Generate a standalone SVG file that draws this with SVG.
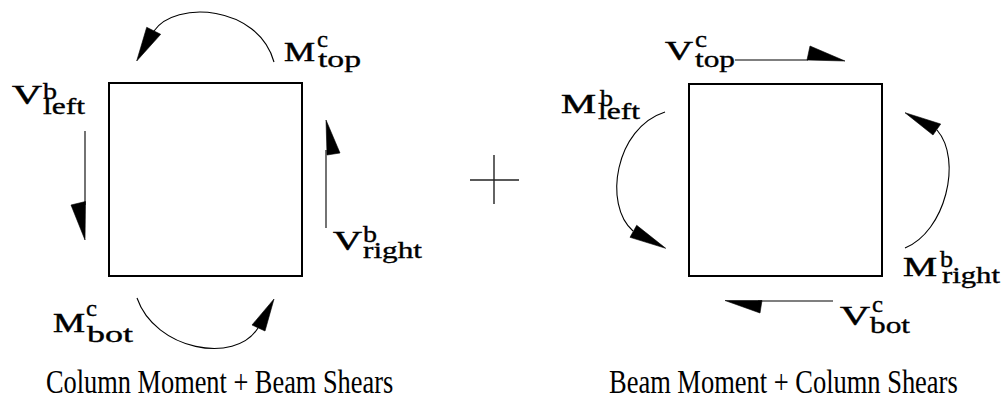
<svg xmlns="http://www.w3.org/2000/svg" width="1004" height="402" viewBox="0 0 1004 402">
<style>
.box{fill:none;stroke:#000;stroke-width:2}
.ln{fill:none;stroke:#000;stroke-width:1.1}
.ah{fill:#000;stroke:#000;stroke-width:0.6;stroke-linejoin:miter}
.lbl{font-family:"Liberation Serif","Times New Roman",serif;fill:#000;stroke:#000}
.mn{font-size:27px;stroke-width:0.5}
.sb{font-size:23px;stroke-width:0.35}
.cap{font-family:"Liberation Serif","Times New Roman",serif;font-size:34px;fill:#000}
.plus{fill:none;stroke:#222;stroke-width:1.4}
</style>
<rect width="1004" height="402" fill="#fff"/>

<g id="left-square"><rect class="box" x="109" y="83" width="193" height="193"/></g>
<g id="right-square"><rect class="box" x="689" y="84" width="193" height="192"/></g>

<g id="plus"><line class="plus" x1="494" y1="155" x2="494" y2="204"/><line class="plus" x1="470" y1="180" x2="519" y2="180"/></g>

<g id="connectors">
  <path class="ln" d="M274,62 C258,5 175,0 154,31"/>
  <polygon class="ah" points="146.7,27.3 160.7,34.3 136.7,61"/>
  <line class="ln" x1="85" y1="131" x2="85" y2="205"/>
  <polygon class="ah" points="71,205 85.5,201.5 85,240"/>
  <line class="ln" x1="326" y1="228" x2="326" y2="150"/>
  <polygon class="ah" points="326,120 340,153 327,155"/>
  <path class="ln" d="M137,298 C155,350 235,365 258,328"/>
  <polygon class="ah" points="274,299 252,325 265,331"/>
  <line class="ln" x1="735" y1="60" x2="808" y2="60"/>
  <polygon class="ah" points="807,60 810,46 845,61"/>
  <path class="ln" d="M665,112 C615,128 603,205 633,231"/>
  <polygon class="ah" points="636.7,225.3 630,237.3 665.7,248.3"/>
  <path class="ln" d="M905,248 C945,232 963,160 937,130"/>
  <polygon class="ah" points="933,135 940.7,124 905,112.7"/>
  <line class="ln" x1="833" y1="301" x2="758" y2="301"/>
  <polygon class="ah" points="725,300.5 762,300.5 760,313"/>
</g>

<g id="label-M-top"><text class="lbl"><tspan class="mn" x="284" y="61" textLength="31" lengthAdjust="spacingAndGlyphs">M</tspan><tspan class="sb" x="317" y="47" textLength="11" lengthAdjust="spacingAndGlyphs">c</tspan><tspan class="sb" x="318" y="67" textLength="43" lengthAdjust="spacingAndGlyphs">top</tspan></text></g>
<g id="label-V-left"><text class="lbl"><tspan class="mn" x="12" y="104" textLength="30" lengthAdjust="spacingAndGlyphs">V</tspan><tspan class="sb" x="43" y="99" textLength="14" lengthAdjust="spacingAndGlyphs">b</tspan><tspan class="sb" x="43" y="114" textLength="42" lengthAdjust="spacingAndGlyphs">left</tspan></text></g>
<g id="label-V-right"><text class="lbl"><tspan class="mn" x="333" y="250" textLength="29" lengthAdjust="spacingAndGlyphs">V</tspan><tspan class="sb" x="363" y="242" textLength="14" lengthAdjust="spacingAndGlyphs">b</tspan><tspan class="sb" x="363" y="258" textLength="59" lengthAdjust="spacingAndGlyphs">right</tspan></text></g>
<g id="label-M-bot"><text class="lbl"><tspan class="mn" x="53" y="332" textLength="32" lengthAdjust="spacingAndGlyphs">M</tspan><tspan class="sb" x="86" y="316" textLength="11" lengthAdjust="spacingAndGlyphs">c</tspan><tspan class="sb" x="87" y="342" textLength="46" lengthAdjust="spacingAndGlyphs">bot</tspan></text></g>
<g id="label-V-top"><text class="lbl"><tspan class="mn" x="665" y="60" textLength="28" lengthAdjust="spacingAndGlyphs">V</tspan><tspan class="sb" x="695" y="47" textLength="12" lengthAdjust="spacingAndGlyphs">c</tspan><tspan class="sb" x="695" y="67" textLength="40" lengthAdjust="spacingAndGlyphs">top</tspan></text></g>
<g id="label-M-left"><text class="lbl"><tspan class="mn" x="561" y="113" textLength="35" lengthAdjust="spacingAndGlyphs">M</tspan><tspan class="sb" x="600" y="106" textLength="13" lengthAdjust="spacingAndGlyphs">b</tspan><tspan class="sb" x="598" y="119" textLength="42" lengthAdjust="spacingAndGlyphs">left</tspan></text></g>
<g id="label-M-right"><text class="lbl"><tspan class="mn" x="903" y="276" textLength="34" lengthAdjust="spacingAndGlyphs">M</tspan><tspan class="sb" x="940" y="267" textLength="13" lengthAdjust="spacingAndGlyphs">b</tspan><tspan class="sb" x="942" y="283" textLength="58" lengthAdjust="spacingAndGlyphs">right</tspan></text></g>
<g id="label-V-bot"><text class="lbl"><tspan class="mn" x="840" y="325" textLength="30" lengthAdjust="spacingAndGlyphs">V</tspan><tspan class="sb" x="872" y="312" textLength="11" lengthAdjust="spacingAndGlyphs">c</tspan><tspan class="sb" x="870" y="333" textLength="40" lengthAdjust="spacingAndGlyphs">bot</tspan></text></g>

<g id="caption-left"><text class="cap" transform="translate(46,393) scale(0.775,1)" x="0" y="0" textLength="448" lengthAdjust="spacingAndGlyphs">Column Moment + Beam Shears</text></g>
<g id="caption-right"><text class="cap" transform="translate(609,393) scale(0.775,1)" x="0" y="0" textLength="450" lengthAdjust="spacingAndGlyphs">Beam Moment + Column Shears</text></g>
</svg>
